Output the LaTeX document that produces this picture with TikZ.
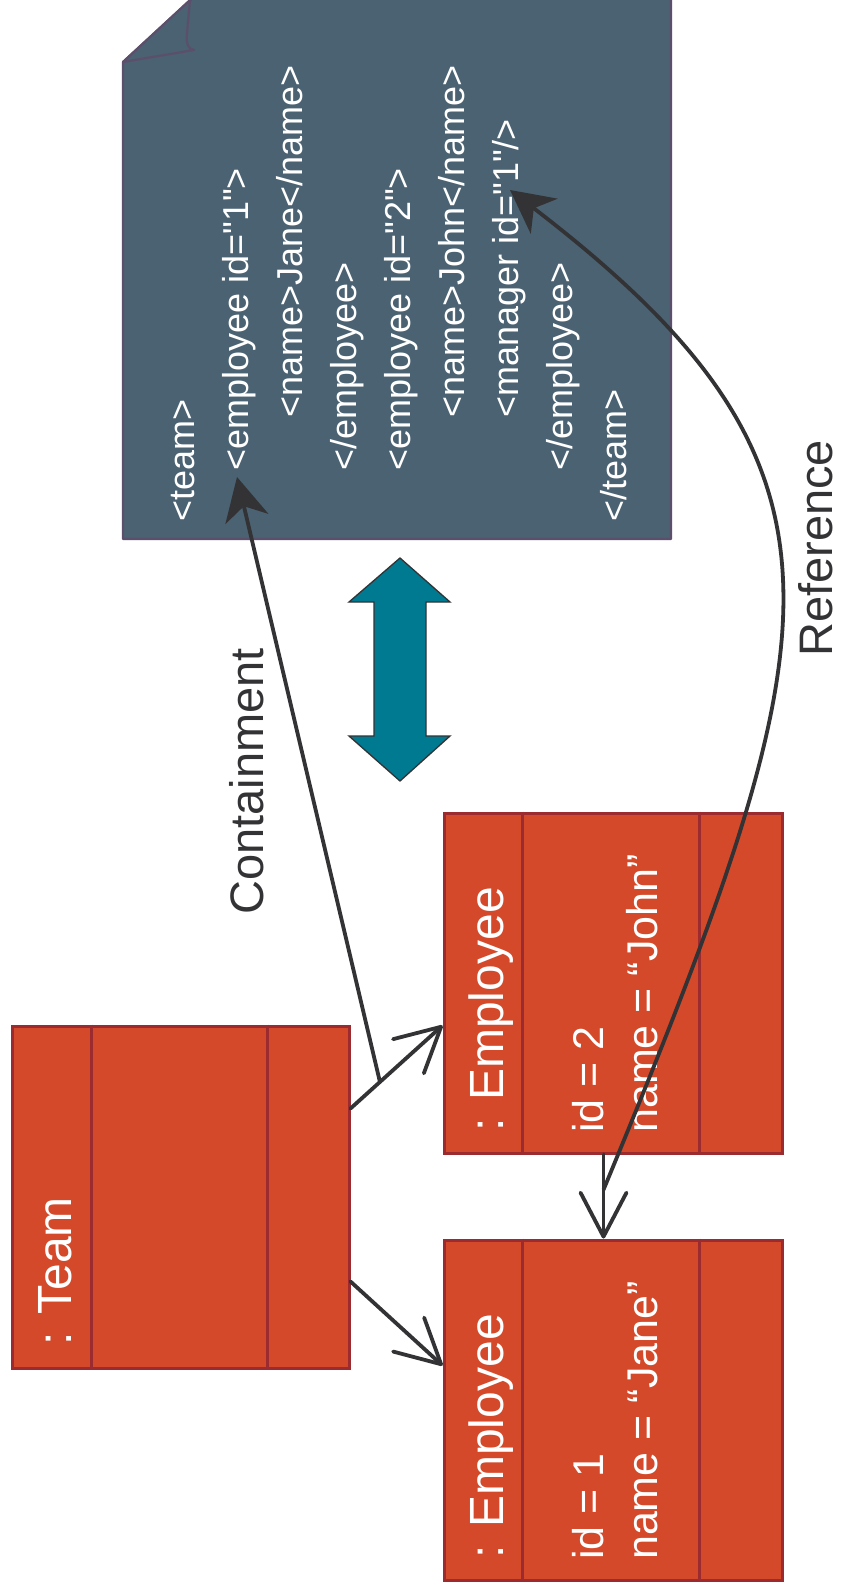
\documentclass[tikz,border=0pt]{standalone}
\usepackage{fontspec}
\setmainfont{Liberation Sans}[Ligatures=TeXOff]
\usetikzlibrary{arrows.meta,calc}
\definecolor{docfill}{HTML}{4A6272}
\definecolor{docline}{HTML}{5B4F6B}
\definecolor{boxfill}{HTML}{D4492A}
\definecolor{boxline}{HTML}{9C2B30}
\definecolor{tealfill}{HTML}{007A91}
\definecolor{ink}{HTML}{333336}
\tikzset{
  cls/.style={draw=boxline, fill=boxfill, line width=3pt, inner sep=0pt, minimum width=338pt, minimum height=340pt},
  divider/.style={draw=boxline, line width=3pt},
  rtext/.style={rotate=90, anchor=base west, inner sep=0pt},
  xmltext/.style={rtext, text=white, font=\fontsize{36}{40}\selectfont},
  hdr/.style={rtext, text=white, font=\fontsize{48}{52}\selectfont},
  attr/.style={rtext, text=white, font=\fontsize{43}{47}\selectfont},
  lbl/.style={rtext, text=ink, font=\fontsize{47}{50}\selectfont},
  openarr/.style={draw=ink, line width=3.8pt, line cap=round,
    -{Straight Barb[length=44pt,width=46pt,line width=3.8pt,round]}},
  fillarr/.style={draw=ink, line width=3.8pt,
    -{Stealth[length=43pt,width=44pt,inset=13pt]}},
}
\begin{document}
\begin{tikzpicture}[x=1pt,y=-1pt]
\useasboundingbox (0,0) rectangle (842,1594);
\fill[white] (0,0) rectangle (842,1594);

% document
\filldraw[fill=docfill, draw=docline, line width=2.2pt, line join=round]
  (123,62) -- (196,-5) -- (671,-5) -- (671,539) -- (123,539) -- cycle;
\filldraw[fill=docfill, draw=docline, line width=2.2pt, line join=round]
  (123,62) -- (190,0) -- (187,33) .. controls (186,44) and (188,49) .. (194,50) -- cycle;

\node[xmltext] (x0) at (194,522) {<team>};
\node[xmltext] (x1) at (248.1,471) {<employee id="1">};
\node[xmltext] (x2) at (302.2,418) {<name>Jane</name>};
\node[xmltext] (x3) at (356.3,471) {</employee>};
\node[xmltext] (x4) at (410.4,471) {<employee id="2">};
\node[xmltext] (x5) at (464.5,418) {<name>John</name>};
\node[xmltext] (x6) at (518.6,418) {<manager id="1"/>};
\node[xmltext] (x7) at (572.7,471) {</employee>};
\node[xmltext] (x8) at (626.8,522) {</team>};

\coordinate (xmlA) at (237,477);
\coordinate (xmlB) at (510,190);

% double arrow
\filldraw[fill=tealfill, draw=ink, line width=1.3pt, line join=miter]
  (400,558) -- (450,602) -- (426,602) -- (426,736) -- (450,736) -- (400,781)
  -- (349,736) -- (374,736) -- (374,602) -- (349,602) -- cycle;

% class boxes
\node[cls, minimum width=337pt, minimum height=342pt] (team) at (180.5,1197) {};
\node[cls] (john) at (613,983) {};
\node[cls] (jane) at (613,1410) {};
\foreach \b/\o in {team/81, team/257, john/80, john/257, jane/80, jane/257}{
  \draw[divider] ($(\b.north west)+(\o,0)$) -- ($(\b.south west)+(\o,0)$);
}

\node[hdr] (teamname) at (71,1346) {: Team};
\node[hdr] (johnname) at (503,1132) {: Employee};
\node[attr] (johnid) at (603,1133) {id = 2};
\node[attr] (johnnm) at (657,1133) {name = “John”};
\node[hdr] (janename) at (503,1559) {: Employee};
\node[attr] (janeid) at (603,1560) {id = 1};
\node[attr] (janenm) at (657,1560) {name = “Jane”};

% connectors
\coordinate (tA) at ($(team.north east)+(0,84)$);
\coordinate (tB) at ($(team.north east)+(0,257)$);
\coordinate (jA) at ($(john.north west)+(0,214)$);
\coordinate (jB) at ($(jane.north west)+(0,127)$);
\coordinate (jbot) at ($(john.south west)+(161,0)$);
\coordinate (jtop) at ($(jane.north west)+(161,0)$);
\coordinate (cstart) at ($(tA)!0.32!(jA)$);
\coordinate (rstart) at ($(jbot)!0.42!(jtop)$);

\draw[openarr] (tA) -- (jA);
\draw[openarr] (tB) -- (jB);
\draw[openarr] (jbot) -- (jtop);
\draw[fillarr] (cstart) -- (xmlA);
\draw[fillarr] (rstart) .. controls (835,630) and (875,470) .. (xmlB);

\node[lbl] (contl) at (263,915) {Containment};
\node[lbl] (refl) at (832,657) {Reference};
\end{tikzpicture}
\end{document}
